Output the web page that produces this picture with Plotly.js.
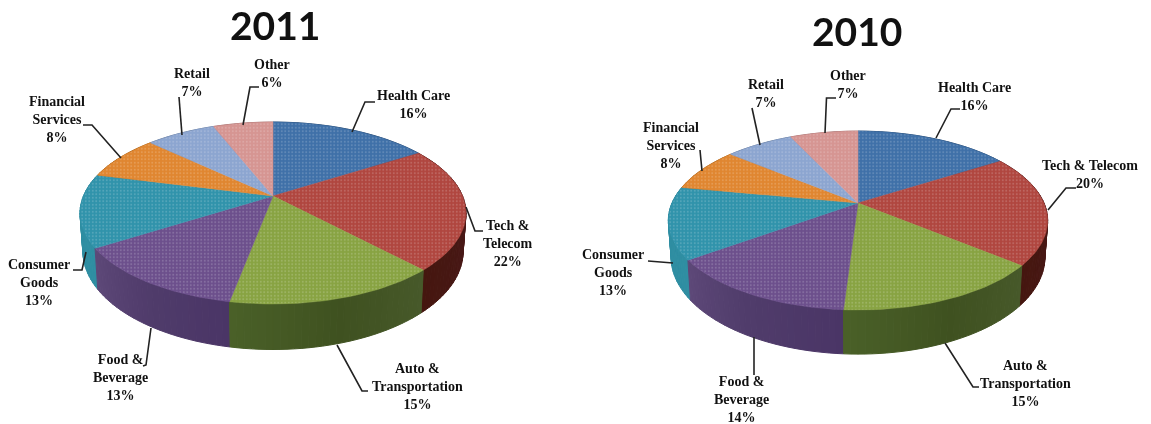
<!DOCTYPE html>
<html><head><meta charset="utf-8">
<script src="https://cdn.plot.ly/plotly-3.0.1.min.js"></script>
<style>html,body{margin:0;padding:0;background:#fff}#chart{width:1151px;height:424px;filter:blur(0.45px)}</style>
</head><body><div id="chart"></div>
<script>
// ---- data ----
const categories = ['Health Care','Tech & Telecom','Auto & Transportation','Food & Beverage','Consumer Goods','Financial Services','Retail','Other'];
const values2011 = [16,22,15,13,13,8,7,6];
const values2010 = [16,20,15,14,13,8,7,7];
const labels2011 = ['Health Care','Tech &<br>Telecom','Auto &<br>Transportation','Food &<br>Beverage','Consumer<br>Goods','Financial<br>Services','Retail','Other'];
const labels2010 = ['Health Care','Tech & Telecom','Auto &<br>Transportation','Food &<br>Beverage','Consumer<br>Goods','Financial<br>Services','Retail','Other'];

// ---- styles ----
const topColors = ['#3f70a8','#b0463f','#88a342','#6c4f8c','#3093ab','#e08630','#8ca5d0','#d69592'];
const wallFrom  = ['#2f4f75','#4e1b1a','#47592a','#4a3566','#2f8ea2','#a8661f','#6a7f9f','#a67573'];
const wallMid   = ['#2f4f75','#4a1a1a','#3f5120','#503c6b','#2f8ea2','#a8661f','#6a7f9f','#a67573'];
const wallTo    = ['#2f4f75','#45160f','#4a6028','#5d4878','#2c8296','#a8661f','#6a7f9f','#a67573'];

// ---- chart placement ----
const pie2011 = {cx:273, cy:196, a:189.6, b:87.8, k:0.187, d:37, inset:0.985, title:'2011', tx:275, ty:25,
  values:values2011, labels:labels2011,
  labelPos:[[413,104],[508,243],[417,386],[120,377],[39,282],[57,119],[192,82],[272,73]],
  leaders:[[[352,132],[365,102],[375,102]],[[466,207],[475,231],[483,231]],[[337,345],[362,391],[368,391]],
           [[151,328],[146,365],[143,366]],[[86,252],[82,270],[73,270]],[[121,158],[92,125],[83,125]],
           [[182,135],[179,97]],[[243,125],[250,87],[259,87]]]};
const pie2010 = {cx:858, cy:203, a:186, b:86, k:0.196, d:35.5, inset:0.985, title:'2010', tx:857, ty:31,
  values:values2010, labels:labels2010,
  labelPos:[[974,96],[1090,174],[1025,383],[741,399],[613,272],[671,145],[766,93],[848,84]],
  leaders:[[[936,138],[951,109],[960,109]],[[1048,210],[1066,188],[1076,188]],[[945,343],[973,387],[979,387]],
           [[754,337],[754,375]],[[673,263],[648,261]],[[702,171],[700,150]],
           [[760,145],[752,108]],[[825,133],[826.5,98],[836,98]]]};

function hex2rgb(h){return [1,3,5].map(i=>parseInt(h.slice(i,i+2),16));}
function mix(a,b,t){const A=hex2rgb(a),B=hex2rgb(b);return 'rgb('+A.map((v,i)=>Math.round(v+(B[i]-v)*t)).join(',')+')';}
function shade(i,t){return t<.5?mix(wallFrom[i],wallMid[i],t*2):mix(wallMid[i],wallTo[i],t*2-1);}

// perspective projection of a point on the unit disc
function rim(p,theta,lower){
  const X=Math.sin(theta),Y=Math.cos(theta),den=1+p.k*Y;
  let x=p.a*X/den, y=-p.b*Y/den;
  if(lower){x*=p.inset; y+=p.d/den;}
  return [p.cx+x,p.cy+y];
}
function build(p){
  const total=p.values.reduce((s,v)=>s+v,0);
  const walls=[],tops=[];
  let cum=0;
  p.values.forEach((v,i)=>{
    const t0=cum/total*2*Math.PI,t1=(cum+v)/total*2*Math.PI;cum+=v;
    // side wall, split into strips so the shade can change along it
    const strips=Math.max(4,Math.round(v*2));
    for(let s=0;s<strips;s++){
      const a0=t0+(t1-t0)*s/strips,a1=t0+(t1-t0)*(s+1)/strips;
      const pts=[rim(p,a0,false),rim(p,a1,false),rim(p,a1,true),rim(p,a0,true)];
      pts.push(pts[0]);
      const col=shade(i,(s+.5)/strips);
      walls.push({depth:Math.cos((a0+a1)/2),trace:{x:pts.map(q=>q[0]),y:pts.map(q=>q[1]),mode:'lines',fill:'toself',
        fillcolor:col,line:{color:col,width:1},hoverinfo:'skip',showlegend:false}});
    }
    // top face
    const xs=[p.cx],ys=[p.cy],n=Math.ceil((t1-t0)/(Math.PI/120));
    for(let q=0;q<=n;q++){const r=rim(p,t0+(t1-t0)*q/n,false);xs.push(r[0]);ys.push(r[1]);}
    xs.push(p.cx);ys.push(p.cy);
    tops.push({x:xs,y:ys,mode:'lines',fill:'toself',fillcolor:topColors[i],name:categories[i],
      fillpattern:{shape:'.',bgcolor:topColors[i],fgcolor:mix(topColors[i],'#ffffff',.18),size:3.5,solidity:.25,fillmode:'replace'},
      line:{color:topColors[i],width:.5},hoverinfo:'name',showlegend:false});
  });
  walls.sort((a,b)=>b.depth-a.depth);
  return walls.map(w=>w.trace).concat(tops);
}
const labelFont={family:'"Liberation Serif",serif',size:14,color:'#111'};
function decorate(p){
  const ann=[{x:p.tx,y:p.ty,text:'<b>'+p.title+'</b>',showarrow:false,xref:'x',yref:'y',
    font:{family:'Lato,sans-serif',size:39,color:'#111'}}];
  p.labels.forEach((l,i)=>{
    const tot=p.values.reduce((s,v)=>s+v,0);
    ann.push({x:p.labelPos[i][0],y:p.labelPos[i][1],xref:'x',yref:'y',showarrow:false,align:'center',
      text:'<b>'+l+'<br>'+Math.round(p.values[i]/tot*100)+'%</b>',font:labelFont});
  });
  const shp=p.leaders.map(L=>({type:'path',xref:'x',yref:'y',
    path:L.map((q,i)=>(i?'L':'M')+q[0]+' '+q[1]).join(' '),line:{color:'#222',width:1.6}}));
  return {ann,shp};
}
const d11=decorate(pie2011),d10=decorate(pie2010);
const layout={width:1151,height:424,margin:{l:0,r:0,t:0,b:0},paper_bgcolor:'#fff',plot_bgcolor:'#fff',showlegend:false,
  xaxis:{range:[0,1151],visible:false,fixedrange:true},
  yaxis:{range:[424,0],visible:false,fixedrange:true},
  annotations:d11.ann.concat(d10.ann),shapes:d11.shp.concat(d10.shp)};
Plotly.newPlot('chart',build(pie2011).concat(build(pie2010)),layout,{displayModeBar:false,staticPlot:true});
</script></body></html>
